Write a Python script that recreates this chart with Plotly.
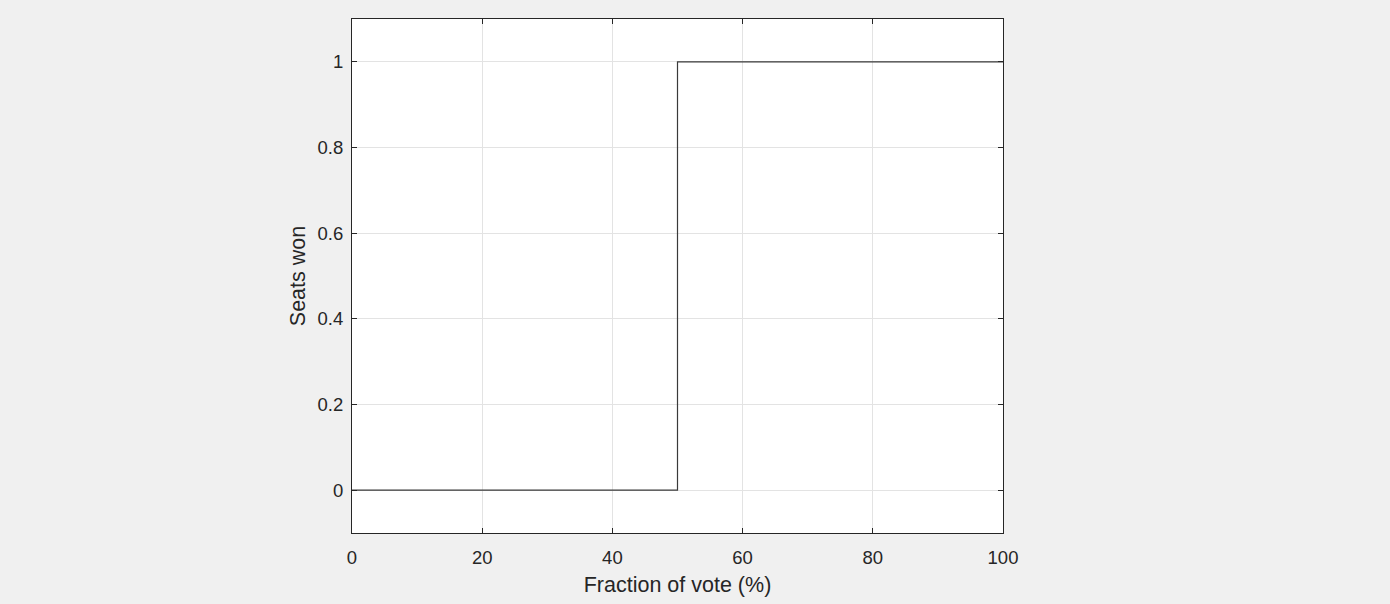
import plotly.graph_objects as go

vote_fraction = [0, 50, 50, 100]
seats_won = [0, 0, 1, 1]
x_ticks = [0, 20, 40, 60, 80, 100]
y_ticks = [0, 0.2, 0.4, 0.6, 0.8, 1]
y_tick_labels = ["0", "0.2", "0.4", "0.6", "0.8", "1"]

fig = go.Figure()
fig.add_trace(go.Scatter(x=vote_fraction, y=seats_won, mode="lines",
                         line=dict(color="#3a3a3a", width=1.2), showlegend=False,
                         hoverinfo="skip"))

axis_common = dict(showline=True, linecolor="#262626", linewidth=1, mirror="ticks",
                   ticks="inside", ticklen=5, tickwidth=1, tickcolor="#262626",
                   showgrid=True, gridcolor="#e3e3e3", gridwidth=1, zeroline=False,
                   tickfont=dict(family="Liberation Sans, Arial", size=18.5, color="#262626"),
                   title_font=dict(family="Liberation Sans, Arial", size=21.5, color="#262626"))

fig.update_layout(
    width=1390, height=604,
    paper_bgcolor="#f0f0f0", plot_bgcolor="white",
    margin=dict(l=352, r=387, t=19, b=71),
    xaxis=dict(range=[0, 100], tickvals=x_ticks, title=dict(text="Fraction of vote (%)", standoff=9),
               ticklabelstandoff=8, **axis_common),
    yaxis=dict(range=[-0.1, 1.1], tickvals=y_ticks, ticktext=y_tick_labels,
               title=dict(text="Seats won", standoff=6), ticklabelstandoff=4, **axis_common),
)
fig.write_html("out.html", config={"displayModeBar": False},
               post_script="document.body.style.margin='0';document.body.style.overflow='hidden';")
